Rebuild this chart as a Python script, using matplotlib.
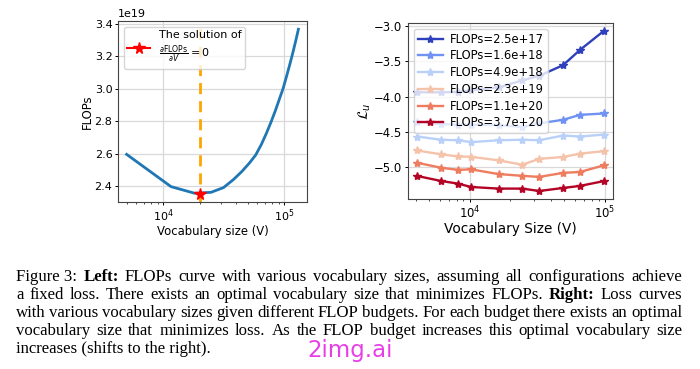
import matplotlib
matplotlib.use("Agg")
import matplotlib.pyplot as plt
import numpy as np

# ---------------- data ----------------
vocab_left = [5000, 11635, 18271, 24906, 31541, 38177, 44812, 51447, 58082, 64718,
              71353, 77988, 84624, 91259, 97894, 104530, 111165, 117800, 124436, 131072]
flops_left = [2.595, 2.396, 2.355, 2.361, 2.39, 2.44, 2.49, 2.54, 2.59, 2.655,
              2.725, 2.795, 2.865, 2.935, 3.0, 3.075, 3.148, 3.22, 3.293, 3.366]  # x1e19
opt_vocab = 20000
opt_flops = 2.352  # x1e19

vocab_right = [4096, 6144, 8192, 10240, 16384, 24576, 32768, 49152, 65536, 98304]
budget_labels = ["FLOPs=2.5e+17", "FLOPs=1.6e+18", "FLOPs=4.9e+18",
                 "FLOPs=2.3e+19", "FLOPs=1.1e+20", "FLOPs=3.7e+20"]
loss_2_5e17 = [-3.94, -3.94, -3.935, -3.91, -3.87, -3.77, -3.706, -3.555, -3.34, -3.07]
loss_1_6e18 = [-4.36, -4.39, -4.40, -4.40, -4.405, -4.432, -4.38, -4.33, -4.26, -4.24]
loss_4_9e18 = [-4.567, -4.613, -4.62, -4.647, -4.62, -4.613, -4.62, -4.553, -4.567, -4.54]
loss_2_3e19 = [-4.765, -4.82, -4.85, -4.855, -4.905, -4.967, -4.883, -4.858, -4.81, -4.775]
loss_1_1e20 = [-4.94, -5.01, -5.04, -5.033, -5.10, -5.125, -5.14, -5.083, -5.07, -4.977]
loss_3_7e20 = [-5.127, -5.198, -5.235, -5.283, -5.306, -5.306, -5.34, -5.297, -5.268, -5.20]
loss_series = [loss_2_5e17, loss_1_6e18, loss_4_9e18, loss_2_3e19, loss_1_1e20, loss_3_7e20]

caption_lines = [
    [("Figure 3:", False), ("Left:", True), ("FLOPs", False), ("curve", False), ("with", False),
     ("various", False), ("vocabulary", False), ("sizes,", False), ("assuming", False),
     ("all", False), ("configurations", False), ("achieve", False)],
    [("a", False), ("fixed", False), ("loss.", False), ("There", False), ("exists", False),
     ("an", False), ("optimal", False), ("vocabulary", False), ("size", False), ("that", False),
     ("minimizes", False), ("FLOPs.", False), ("Right:", True), ("Loss", False), ("curves", False)],
    [("with", False), ("various", False), ("vocabulary", False), ("sizes", False), ("given", False),
     ("different", False), ("FLOP", False), ("budgets.", False), ("For", False), ("each", False),
     ("budget", False), ("there", False), ("exists", False), ("an", False), ("optimal", False)],
    [("vocabulary", False), ("size", False), ("that", False), ("minimizes", False), ("loss.", False),
     ("As", False), ("the", False), ("FLOP", False), ("budget", False), ("increases", False),
     ("this", False), ("optimal", False), ("vocabulary", False), ("size", False)],
]
caption_last = "increases (shifts to the right)."

# ---------------- figure ----------------
W, H = 700, 369
fig = plt.figure(figsize=(7.0, 3.69), dpi=100)
plt.rcParams['font.family'] = ['DejaVu Sans']
FS = 8.0

def px_axes(x0, y0, x1, y1):
    return fig.add_axes([x0 / W, 1 - y1 / H, (x1 - x0) / W, (y1 - y0) / H])

def style_ticks(ax, lsize):
    ax.tick_params(which='major', length=2.5, pad=1.5, width=0.7, labelsize=lsize)
    ax.tick_params(which='minor', length=1.5, width=0.5)

# Left panel
ax1 = px_axes(118, 21, 307, 202)
ax1.plot(vocab_left, np.array(flops_left) * 1e19, color='#1f77b4', lw=2, zorder=3)
ax1.axvline(opt_vocab, color='orange', ls='--', lw=2, dashes=(4, 2.5), zorder=2)
ax1.plot([opt_vocab], [opt_flops * 1e19], color='red', marker='*', ms=8.5, ls='-',
         label='The solution of\n' + r'$\frac{\partial \mathrm{FLOPs}}{\partial V}=0$', zorder=4)
ax1.set_xscale('log')
ax1.set_yticks(np.array([2.4, 2.6, 2.8, 3.0, 3.2, 3.4]) * 1e19)
ax1.grid(True, color='#d9d9d9', lw=0.9)
ax1.set_axisbelow(True)
ax1.set_xlabel('Vocabulary size (V)', fontsize=8.4, labelpad=0.3)
ax1.set_ylabel('FLOPs', fontsize=8.4, labelpad=0.5)
style_ticks(ax1, FS)
ax1.yaxis.get_offset_text().set_fontsize(FS)
ax1.legend(loc='upper left', fontsize=FS, handlelength=2.0, borderpad=0.35,
           handletextpad=0.8, labelspacing=0.3)

# Right panel
colors = ['#2f40bd', '#6f92f3', '#b9d0f9', '#f5c2aa', '#ee7d60', '#b40426']
ax2 = px_axes(408, 23, 613, 199)
for vals, lab, c in zip(loss_series, budget_labels, colors):
    ax2.plot(vocab_right, vals, color=c, marker='*', ms=6, lw=1.7, label=lab)
ax2.set_xscale('log')
ax2.set_yticks([-3.0, -3.5, -4.0, -4.5, -5.0])
ax2.grid(True, color='#d9d9d9', lw=0.9)
ax2.set_axisbelow(True)
ax2.set_xlabel('Vocabulary Size (V)', fontsize=9.8, labelpad=0.3)
ax2.set_ylabel(r'$\mathcal{L}_u$', fontsize=10, labelpad=1.0)
style_ticks(ax2, 8.4)
ax2.legend(loc='upper left', fontsize=8.3, handlelength=2.2, borderpad=0.35,
           labelspacing=0.32, handletextpad=0.55)

for ax in (ax1, ax2):
    for s in ax.spines.values():
        s.set_color('#444444')
        s.set_linewidth(0.8)

# ---------------- caption (justified) ----------------
renderer = fig.canvas.get_renderer()
cap_fs = 12.1
left_px, right_px = 16, 682
baselines = [281, 299, 317, 335, 353]
for words, base in zip(caption_lines, baselines):
    texts = []
    for w, bold in words:
        t = fig.text(0, 1 - base / H, w, fontsize=cap_fs, family='Liberation Serif',
                     fontweight='bold' if bold else 'normal', va='baseline', ha='left')
        texts.append(t)
    widths = [t.get_window_extent(renderer).width for t in texts]
    gap = (right_px - left_px - sum(widths)) / (len(texts) - 1)
    x = left_px
    for t, wdt in zip(texts, widths):
        t.set_x(x / W)
        x += wdt + gap
fig.text(left_px / W, 1 - baselines[-1] / H, caption_last, fontsize=cap_fs,
         family='Liberation Serif', va='baseline', ha='left')

fig.text(350 / W, 1 - 357 / H, '2img.ai', fontsize=16.5, color='#e83ee8',
         ha='center', va='baseline', family='DejaVu Sans')

fig.savefig('out.png', dpi=100)
